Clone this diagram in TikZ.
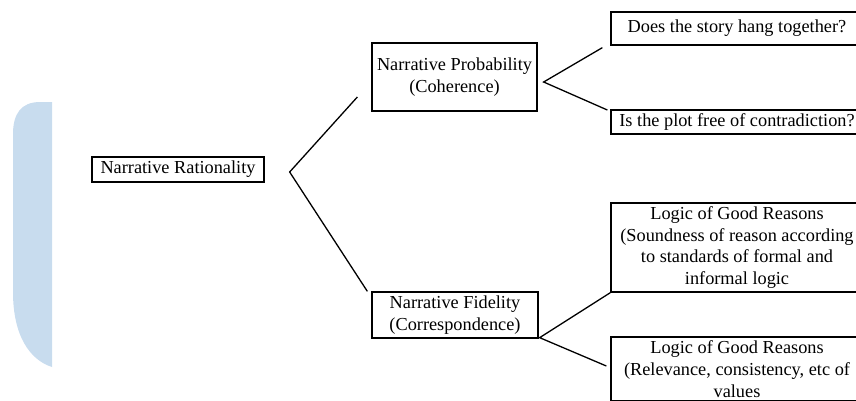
\documentclass[tikz,border=0pt]{standalone}
\usepackage{fontspec}
\setmainfont{Liberation Serif}
\usetikzlibrary{positioning, calc}

\definecolor{sidebarblue}{RGB}{200,220,238}

\tikzset{
    box/.style={draw, line width=1.3pt, inner sep=0pt, align=center,
        font=\fontsize{18.3}{21.8}\selectfont},
    branch/.style={line width=1.3pt}
}

\begin{document}
\begin{tikzpicture}[x=1pt, y=-1pt]
    \useasboundingbox (0,0) rectangle (856,400);
    \clip (0,0) rectangle (856,400);

    % Blue side bar
    \fill[sidebarblue] (52,102) -- (40,102) .. controls (21,102) and (13,114) .. (13,134)
        -- (13,292) .. controls (13,336) and (30,360) .. (52,367) -- cycle;

    % Boxes
    \node[box, minimum width=172pt, minimum height=25pt] (rat) at (178,169.5) {Narrative Rationality};
    \node[box, minimum width=165pt, minimum height=68pt] (prob) at (454.5,77) {Narrative Probability\\(Coherence)};
    \node[box, minimum width=166pt, minimum height=46pt] (fid) at (455,315) {Narrative Fidelity\\(Correspondence)};

    \node[box, minimum width=252pt, minimum height=33pt] (hang) at (737,28.5) {Does the story hang together?};
    \node[box, minimum width=252pt, minimum height=24pt] (contra) at (737,122) {Is the plot free of contradiction?};
    \node[box, minimum width=252pt, minimum height=89pt] (sound) at (737,247.5)
        {Logic of Good Reasons\\(Soundness of reason according\\to standards of formal and\\informal logic};
    \node[box, minimum width=252pt, minimum height=64pt] (relev) at (737,369)
        {Logic of Good Reasons\\(Relevance, consistency, etc of\\values};

    % Fork points
    \coordinate (ratfork) at ($(rat.east)+(25,2.5)$);
    \coordinate (probfork) at ($(prob.east)+(6,5)$);
    \coordinate (fidfork) at ($(fid.south east)+(1,-1)$);

    % Branches
    \draw[branch] ($(prob.west)+(-14,20)$) -- (ratfork) -- ($(fid.north west)+(-4,0)$);
    \draw[branch] ($(hang.south west)+(-8,2)$) -- (probfork) -- ($(contra.west)+(-3,-12)$);
    \draw[branch] (sound.south west) -- (fidfork) -- ($(relev.west)+(-4,-3)$);
\end{tikzpicture}
\end{document}
